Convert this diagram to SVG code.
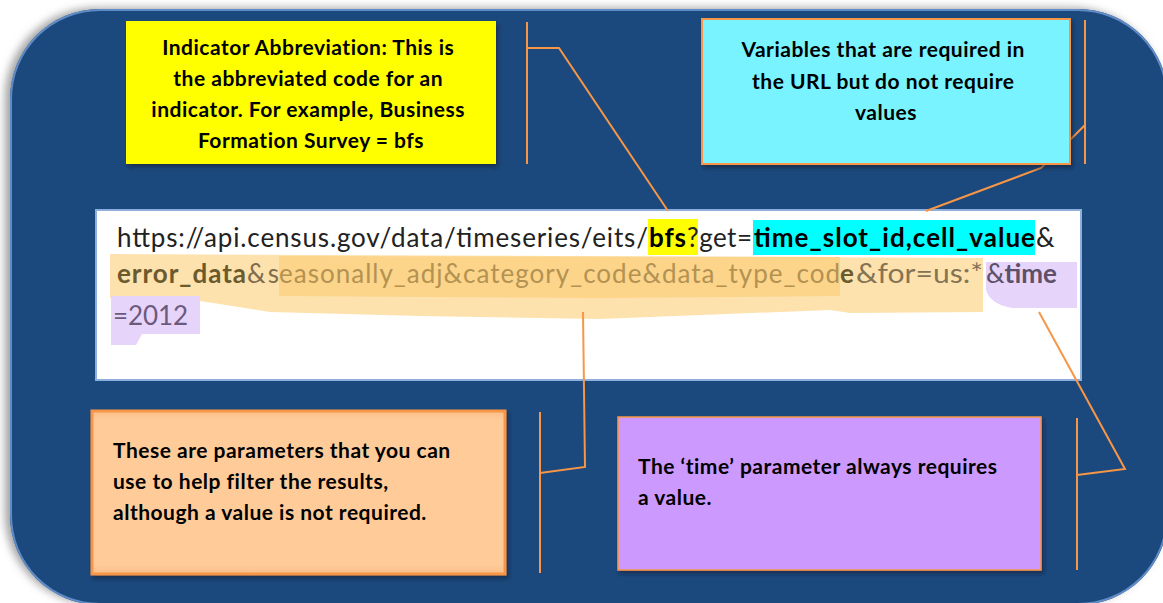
<svg xmlns="http://www.w3.org/2000/svg" width="1163" height="603" viewBox="0 0 1163 603">
  <defs>
    <filter id="bgShadow" x="-5%" y="-5%" width="110%" height="110%">
      <feDropShadow dx="-5" dy="-1" stdDeviation="4" flood-color="#7a7a7a" flood-opacity="0.7"/>
    </filter>
    <filter id="boxShadow" x="-5%" y="-5%" width="115%" height="120%">
      <feDropShadow dx="2" dy="3" stdDeviation="2" flood-color="#0a1a30" flood-opacity="0.6"/>
    </filter>
    <linearGradient id="orangeFill" x1="0" y1="0" x2="0" y2="1">
      <stop offset="0" stop-color="#F9BE8A"/>
      <stop offset="0.06" stop-color="#FFCC99"/>
      <stop offset="0.94" stop-color="#FFCC99"/>
      <stop offset="1" stop-color="#F9BE8A"/>
    </linearGradient>
  </defs>
  <style>
    .box-text { font-family: Lato, "Liberation Sans", sans-serif; font-weight: bold; font-size: 21px; letter-spacing: 0.5px; fill: #000; }
    .url { font-family: Lato, "Liberation Sans", sans-serif; font-size: 26px; fill: #222; }
    .b { font-weight: bold; }
    .conn { fill: none; stroke: #F79646; stroke-width: 2; }
  </style>

  <rect width="1163" height="603" fill="#ffffff"/>

  <!-- background panel -->
  <g id="panel">
    <rect x="10" y="9" width="1158" height="596" rx="90" ry="90" fill="#1F497D" filter="url(#bgShadow)"/>
    <rect x="11" y="10" width="1156" height="594" rx="89" ry="89" fill="none" stroke="#5F8CC6" stroke-width="2"/>
  </g>

  <!-- URL box -->
  <g id="url-box">
    <rect x="96" y="210" width="985" height="170" fill="#ffffff" stroke="#8EAEDB" stroke-width="2"/>
    <!-- highlights -->
    <path d="M110,254 L983,258 L983,312 L850,313 L830,310 L600,319 L420,316 L270,312 L200,301 L110,298 Z" fill="#FEE2AE"/>
    <path d="M279,256 L840,257 L840,296 L600,298 L279,296 Z" fill="#FCD48A"/>
    <path d="M986,262 L1077,262 L1077,308 L1012,308 Q990,304 986,290 Z" fill="#E7D4FB"/>
    <path d="M111,296 L200,296 L200,334 L142,334 L136,345 L111,345 Z" fill="#E7D4FB"/>
    <rect x="648" y="219" width="50" height="36" fill="#FFFF00"/>
    <rect x="753" y="220" width="282" height="35" fill="#00FFFF"/>
    <!-- text -->
    <text class="url" y="247">
      <tspan x="117" textLength="531" lengthAdjust="spacing">https://api.census.gov/data/timeseries/eits/</tspan><tspan x="649" class="b" fill="#000" textLength="37" lengthAdjust="spacing">bfs</tspan><tspan x="687" textLength="65" lengthAdjust="spacing">?get=</tspan><tspan x="754" class="b" fill="#000" textLength="281" lengthAdjust="spacing">time_slot_id,cell_value</tspan><tspan x="1036">&amp;</tspan>
    </text>
    <text class="url" y="283">
      <tspan x="117" class="b" fill="#6B5A2E" textLength="129" lengthAdjust="spacing">error_data</tspan><tspan x="247" fill="#7E6E4E" textLength="32" lengthAdjust="spacing">&amp;s</tspan><tspan x="279" fill="#B39252" textLength="561" lengthAdjust="spacing">easonally_adj&amp;category_code&amp;data_type_cod</tspan><tspan x="840" class="b" fill="#6B5A2E">e</tspan><tspan x="856" fill="#857454" textLength="127" lengthAdjust="spacingAndGlyphs">&amp;for=us:*</tspan><tspan x="986" fill="#5E5068">&amp;</tspan><tspan class="b" fill="#5E5068">time</tspan>
    </text>
    <text class="url" y="325"><tspan x="113" textLength="75" lengthAdjust="spacing" fill="#6C5A7C">=2012</tspan></text>
  </g>

  <!-- connectors -->
  <g id="connectors">
    <polyline class="conn" points="527,22 527,164"/>
    <polyline class="conn" points="527,48 559,48 668,211"/>
    <polyline class="conn" points="1085,20 1085,164"/>
    <polyline class="conn" points="1085,125 1055,155 1041,168 926,211"/>
    <polyline class="conn" points="583,312 585,467 540,473"/>
    <polyline class="conn" points="540,412 540,573"/>
    <polyline class="conn" points="1039,312 1125,469 1077,475"/>
    <polyline class="conn" points="1077,418 1077,570"/>
  </g>

  <!-- yellow node -->
  <g id="node-indicator">
    <rect x="126" y="21" width="370" height="143" fill="#FFFF00" filter="url(#boxShadow)"/>
    <text class="box-text" text-anchor="middle">
      <tspan x="311" y="55">Indicator Abbreviation: This is</tspan>
      <tspan x="311" y="86">the abbreviated code for an</tspan>
      <tspan x="311" y="117">indicator. For example, Business</tspan>
      <tspan x="311" y="148">Formation Survey = bfs</tspan>
    </text>
  </g>

  <!-- cyan node -->
  <g id="node-variables">
    <rect x="702" y="19" width="368" height="145" fill="#79F3FF" stroke="#F79646" stroke-width="2" filter="url(#boxShadow)"/>
    <text class="box-text" text-anchor="middle">
      <tspan x="886" y="57">Variables that are required in</tspan>
      <tspan x="886" y="89">the URL but do not require</tspan>
      <tspan x="886" y="120">values</tspan>
    </text>
  </g>

  <!-- orange node -->
  <g id="node-parameters">
    <rect x="92" y="411" width="413" height="163" fill="url(#orangeFill)" stroke="#F79646" stroke-width="3" filter="url(#boxShadow)"/>
    <text class="box-text">
      <tspan x="113" y="458">These are parameters that you can</tspan>
      <tspan x="113" y="489">use to help filter the results,</tspan>
      <tspan x="113" y="520">although a value is not required.</tspan>
    </text>
  </g>

  <!-- purple node -->
  <g id="node-time">
    <rect x="618" y="417" width="423" height="153" fill="#CC99FF" stroke="#F79646" stroke-width="1.5" filter="url(#boxShadow)"/>
    <text class="box-text">
      <tspan x="638" y="474">The ‘time’ parameter always requires</tspan>
      <tspan x="638" y="505">a value.</tspan>
    </text>
  </g>
</svg>
